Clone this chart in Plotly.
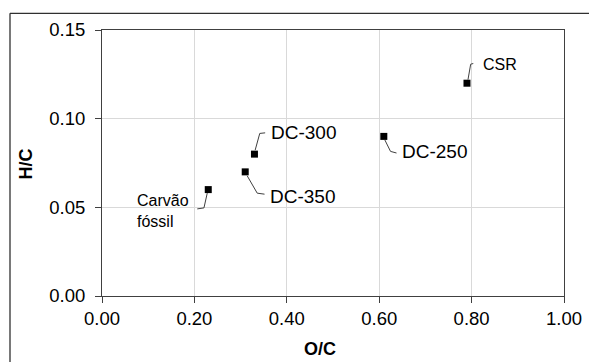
import plotly.graph_objects as go

# ---- data ----
labels = ["Carvão<br>fóssil", "DC-350", "DC-300", "DC-250", "CSR"]
oc = [0.23, 0.31, 0.33, 0.61, 0.79]
hc = [0.06, 0.07, 0.08, 0.09, 0.12]
x_ticks = [0.0, 0.2, 0.4, 0.6, 0.8, 1.0]
y_ticks = [0.0, 0.05, 0.10, 0.15]

# ---- styling / layout (pixels) ----
W, H = 589, 362
ML, MR, MT, MB = 102, 25, 30, 66
PW, PH = W - ML - MR, H - MT - MB
FONT = "Liberation Sans, Arial, sans-serif"

# label offsets from the marker (px, y up), leader path points, anchors, font sizes
label_off = [(-17, -21), (23, -25), (15, 22), (16, -15.5), (14.5, 18.5)]
label_anchor = ["right", "left", "left", "left", "left"]
label_size = [16, 19, 19, 19, 16]
leaders = [
    [(-1, -3.5), (-4.3, -18.3), (-11, -19.3)],
    [(2, -4), (12, -21.3), (19.3, -22.3)],
    [(0.7, 4), (5.3, 20.7), (10.7, 21.3)],
    [(1, -3.5), (6.7, -15), (12.7, -16.6)],
    [(1, 3.5), (3.7, 19), (6.3, 19.7)],
]

fig = go.Figure()
fig.add_trace(go.Scatter(
    x=oc, y=hc, mode="markers",
    marker=dict(symbol="square", size=7, color="black"),
    hoverinfo="skip", showlegend=False,
))

annotations = []
shapes = []
for x, y, lab, off, anc, fs, pts in zip(oc, hc, labels, label_off, label_anchor, label_size, leaders):
    annotations.append(dict(
        x=x, y=y, xref="x", yref="y", text=lab, showarrow=False,
        xshift=off[0], yshift=off[1], xanchor=anc, yanchor="middle", align="left",
        font=dict(family=FONT, size=fs, color="black"),
    ))
    path = "M " + " L ".join(f"{px},{py}" for px, py in pts)
    shapes.append(dict(
        type="path", xref="x", yref="y", xsizemode="pixel", ysizemode="pixel",
        xanchor=x, yanchor=y, path=path,
        line=dict(color="#404040", width=1),
    ))

# axis titles
annotations.append(dict(
    x=(320 - ML) / PW, y=(MT + PH - 361) / PH, xref="paper", yref="paper",
    text="<b>O/C</b>", showarrow=False, xanchor="center", yanchor="bottom",
    font=dict(family=FONT, size=18, color="black"),
))
annotations.append(dict(
    x=(25 - ML) / PW, y=(MT + PH - 164.5) / PH, xref="paper", yref="paper",
    text="<b>H/C</b>", showarrow=False, textangle=-90, xanchor="center", yanchor="middle",
    font=dict(family=FONT, size=18, color="black"),
))

# outer chart frame (top and left edges visible)
fx = (10 - ML) / PW
fy = (MT + PH - 13.3) / PH
shapes.append(dict(type="line", xref="paper", yref="paper", x0=fx, x1=1.2, y0=fy, y1=fy,
                   line=dict(color="#303030", width=1.3)))
shapes.append(dict(type="line", xref="paper", yref="paper", x0=fx, x1=fx, y0=fy, y1=-0.5,
                   line=dict(color="#303030", width=1.3)))

axis_common = dict(
    showgrid=True, gridcolor="#d9d9d9", gridwidth=1,
    showline=True, linecolor="#404040", linewidth=1, mirror=True,
    ticks="outside", ticklen=6, tickcolor="#404040", tickwidth=1,
    tickfont=dict(family=FONT, size=18.5, color="black"),
    zeroline=False, tickformat=".2f",
)

fig.update_layout(
    width=W, height=H,
    margin=dict(l=ML, r=MR, t=MT, b=MB, autoexpand=False),
    paper_bgcolor="white", plot_bgcolor="white",
    xaxis=dict(range=[0, 1], tickvals=x_ticks, automargin=False, **axis_common),
    yaxis=dict(range=[0, 0.15], tickvals=y_ticks, ticklabelstandoff=6, automargin=False, **axis_common),
    annotations=annotations, shapes=shapes,
    showlegend=False,
)

fig.write_html("out.html", config={"responsive": False})
